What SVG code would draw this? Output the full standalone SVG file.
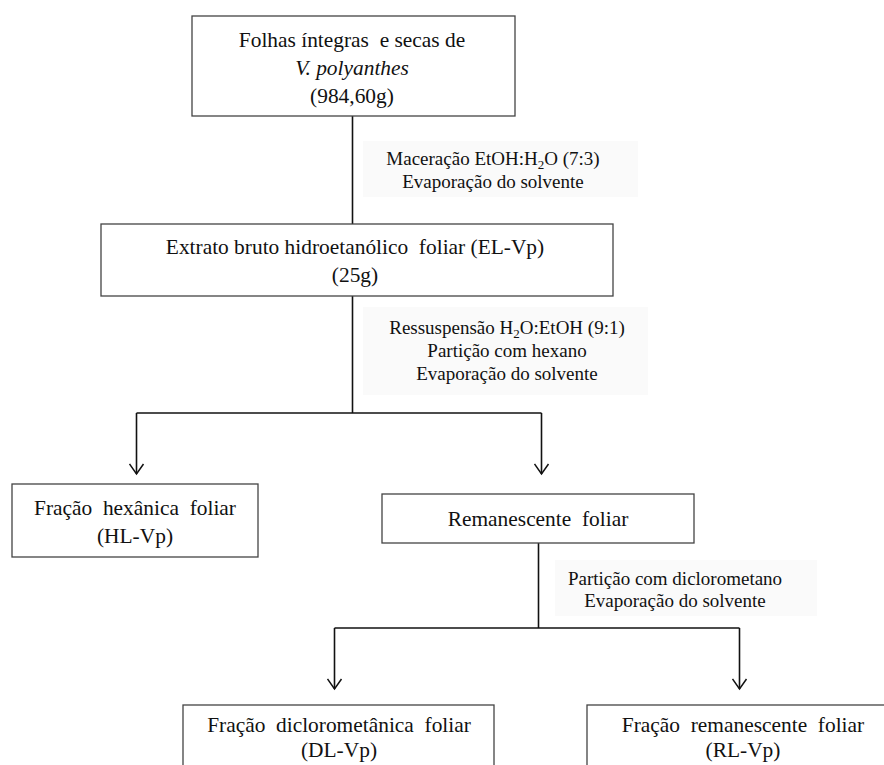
<svg xmlns="http://www.w3.org/2000/svg" width="884" height="765" viewBox="0 0 884 765">
<defs>
<style>
.box{fill:#ffffff;stroke:#444444;stroke-width:1.3}
.t{font-family:"Liberation Serif","Times New Roman",serif;font-size:21.4px;fill:#111111;text-anchor:middle;white-space:pre}
.l{font-family:"Liberation Serif","Times New Roman",serif;font-size:19px;fill:#111111;text-anchor:middle;white-space:pre}
.bg{fill:#fafafa;stroke:none}
.ln{stroke:#111111;stroke-width:1.6;fill:none}
</style>
<marker id="arr" markerWidth="16" markerHeight="16" refX="11" refY="8" orient="auto" markerUnits="userSpaceOnUse" viewBox="0 0 16 16">
<polyline points="1,1 11,8 1,15" fill="none" stroke="#111111" stroke-width="1.5"/>
</marker>
</defs>
<rect width="884" height="765" fill="#ffffff"/>
<g id="labels-bg">
<rect class="bg" x="363" y="141" width="275" height="56"/>
<rect class="bg" x="363" y="307" width="285" height="88"/>
<rect class="bg" x="555" y="560" width="262" height="56"/>
</g>
<g id="connectors">
<line class="ln" x1="352.5" y1="116" x2="352.5" y2="224"/>
<line class="ln" x1="352.5" y1="296" x2="352.5" y2="413"/>
<line class="ln" x1="136.5" y1="413" x2="541.5" y2="413"/>
<line class="ln" x1="136.5" y1="413" x2="136.5" y2="474" marker-end="url(#arr)"/>
<line class="ln" x1="541.5" y1="413" x2="541.5" y2="474" marker-end="url(#arr)"/>
<line class="ln" x1="538.5" y1="543" x2="538.5" y2="628"/>
<line class="ln" x1="334.5" y1="628" x2="739.5" y2="628"/>
<line class="ln" x1="334.5" y1="628" x2="334.5" y2="689" marker-end="url(#arr)"/>
<line class="ln" x1="739.5" y1="628" x2="739.5" y2="689" marker-end="url(#arr)"/>
<text class="l" x="493" y="165" font-size="19.6">Maceração EtOH:H<tspan font-size="13" baseline-shift="-4">2</tspan>O (7:3)</text>
<text class="l" x="493" y="188" font-size="19.6">Evaporação do solvente</text>
<text class="l" x="507" y="334">Ressuspensão H<tspan font-size="13" baseline-shift="-4">2</tspan>O:EtOH (9:1)</text>
<text class="l" x="507" y="357">Partição com hexano</text>
<text class="l" x="507" y="380">Evaporação do solvente</text>
<text class="l" x="675" y="585" font-size="18.5">Partição com diclorometano</text>
<text class="l" x="675" y="607" font-size="18.5">Evaporação do solvente</text>
</g>
<g id="n-folhas">
<rect class="box" x="192" y="16" width="323" height="100"/>
<text class="t" x="352" y="47">Folhas íntegras  e secas de</text>
<text class="t" x="352" y="75" font-style="italic">V. polyanthes</text>
<text class="t" x="352" y="103">(984,60g)</text>
</g>
<g id="n-extrato">
<rect class="box" x="101" y="224" width="512" height="72"/>
<text class="t" x="355" y="254">Extrato bruto hidroetanólico  foliar (EL-Vp)</text>
<text class="t" x="355" y="282">(25g)</text>
</g>
<g id="n-hexanica">
<rect class="box" x="12" y="484" width="246" height="73"/>
<text class="t" x="135" y="515">Fração  hexânica  foliar</text>
<text class="t" x="135" y="543">(HL-Vp)</text>
</g>
<g id="n-remanescente">
<rect class="box" x="382" y="494" width="312" height="49"/>
<text class="t" x="538" y="526">Remanescente  foliar</text>
</g>
<g id="n-dicloro">
<rect class="box" x="183" y="705" width="311" height="80"/>
<text class="t" x="339" y="732">Fração  diclorometânica  foliar</text>
<text class="t" x="339" y="757">(DL-Vp)</text>
</g>
<g id="n-rem-fracao">
<rect class="box" x="587" y="705" width="320" height="80"/>
<text class="t" x="743" y="732">Fração  remanescente  foliar</text>
<text class="t" x="743" y="757">(RL-Vp)</text>
</g>
</svg>
